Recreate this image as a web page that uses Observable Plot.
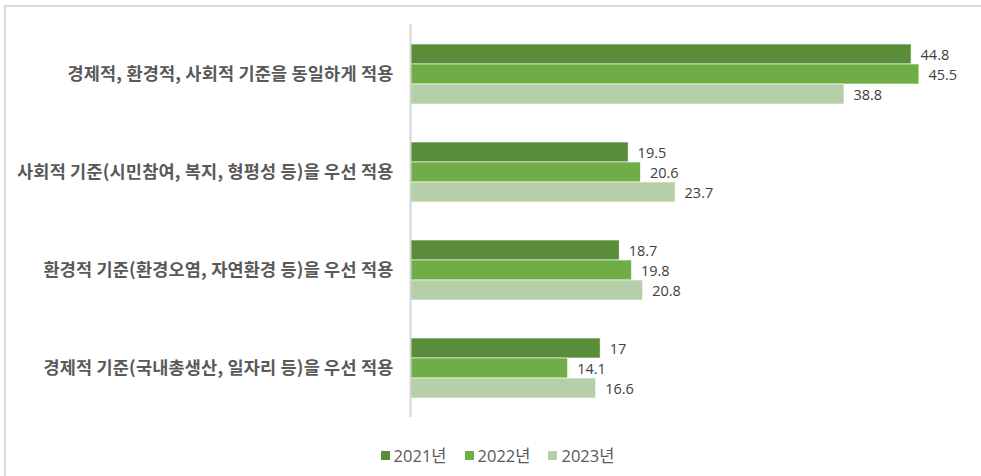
<!DOCTYPE html>
<html><head><meta charset="utf-8">
<script src="https://cdn.jsdelivr.net/npm/d3@7"></script>
<script src="https://cdn.jsdelivr.net/npm/@observablehq/plot@0.6"></script>
<style>
html,body{margin:0;padding:0;background:#fff;width:981px;height:476px;overflow:hidden;}
#frame{position:absolute;left:4px;top:5px;width:1000px;height:500px;border-left:2px solid #dadada;border-top:2px solid #dadada;box-sizing:border-box;}
#chart{position:absolute;left:0;top:0;}
#chart svg g[aria-label="fy-axis tick label"] text{letter-spacing:0.2px;}
#legend{position:absolute;left:0;top:443px;width:981px;display:flex;justify-content:center;gap:18px;font-family:"Open Sans","Noto Sans CJK KR",sans-serif;font-size:16.5px;color:#595959;padding-left:14px;box-sizing:border-box;}
#legend .it{display:flex;align-items:center;gap:4px;}
#legend .sw{width:9px;height:9px;display:inline-block;}
</style></head>
<body>
<div id="frame"></div>
<div id="chart"></div>
<div id="legend"></div>
<script>
const categories = [
  "경제적, 환경적, 사회적 기준을 동일하게 적용",
  "사회적 기준(시민참여, 복지, 형평성 등)을 우선 적용",
  "환경적 기준(환경오염, 자연환경 등)을 우선 적용",
  "경제적 기준(국내총생산, 일자리 등)을 우선 적용"
];
const years = ["2021년", "2022년", "2023년"];
const v2021 = [44.8, 19.5, 18.7, 17];
const v2022 = [45.5, 20.6, 19.8, 14.1];
const v2023 = [38.8, 23.7, 20.8, 16.6];
const colors = ["#5a8d3a", "#70ad47", "#b5d0a8"];

const series = [v2021, v2022, v2023];
const data = [];
categories.forEach((c, i) => years.forEach((y, j) => data.push({cat: c, year: y, value: series[j][i]})));

const chart = Plot.plot({
  width: 981,
  height: 430,
  marginLeft: 410,
  marginRight: 14,
  marginTop: 23,
  marginBottom: 12,
  style: {fontFamily: "'Noto Sans CJK KR', sans-serif", color: "#595959", background: "transparent"},
  x: {domain: [0, 49.8], axis: null},
  y: {domain: years, axis: null, padding: 0},
  fy: {domain: categories, paddingInner: 0.375, paddingOuter: 0.1875, label: null},
  color: {domain: years, range: colors},
  facet: {data, y: "cat", label: null},
  marks: [
    Plot.axisFy({anchor: "left", tickSize: 0, tickPadding: 17, fontSize: 17.5, fontWeight: "bold", label: null}),
    Plot.barX(data, {x: "value", y: "year", fill: "year", stroke: "white", strokeWidth: 0.6}),
    Plot.text(data, {x: "value", y: "year", text: d => String(d.value), textAnchor: "start", dx: 9, dy: 1, fill: "#404040", fontSize: 14.5, fontFamily: "'Open Sans', sans-serif"}),
    Plot.ruleX([0], {stroke: "#d4d4d4", strokeWidth: 2, insetTop: -19, insetBottom: -19})
  ]
});
document.getElementById("chart").appendChild(chart);

const leg = document.getElementById("legend");
years.forEach((y, j) => {
  const it = document.createElement("span");
  it.className = "it";
  it.innerHTML = `<span class="sw" style="background:${colors[j]}"></span><span>${y}</span>`;
  leg.appendChild(it);
});
</script>
</body></html>
